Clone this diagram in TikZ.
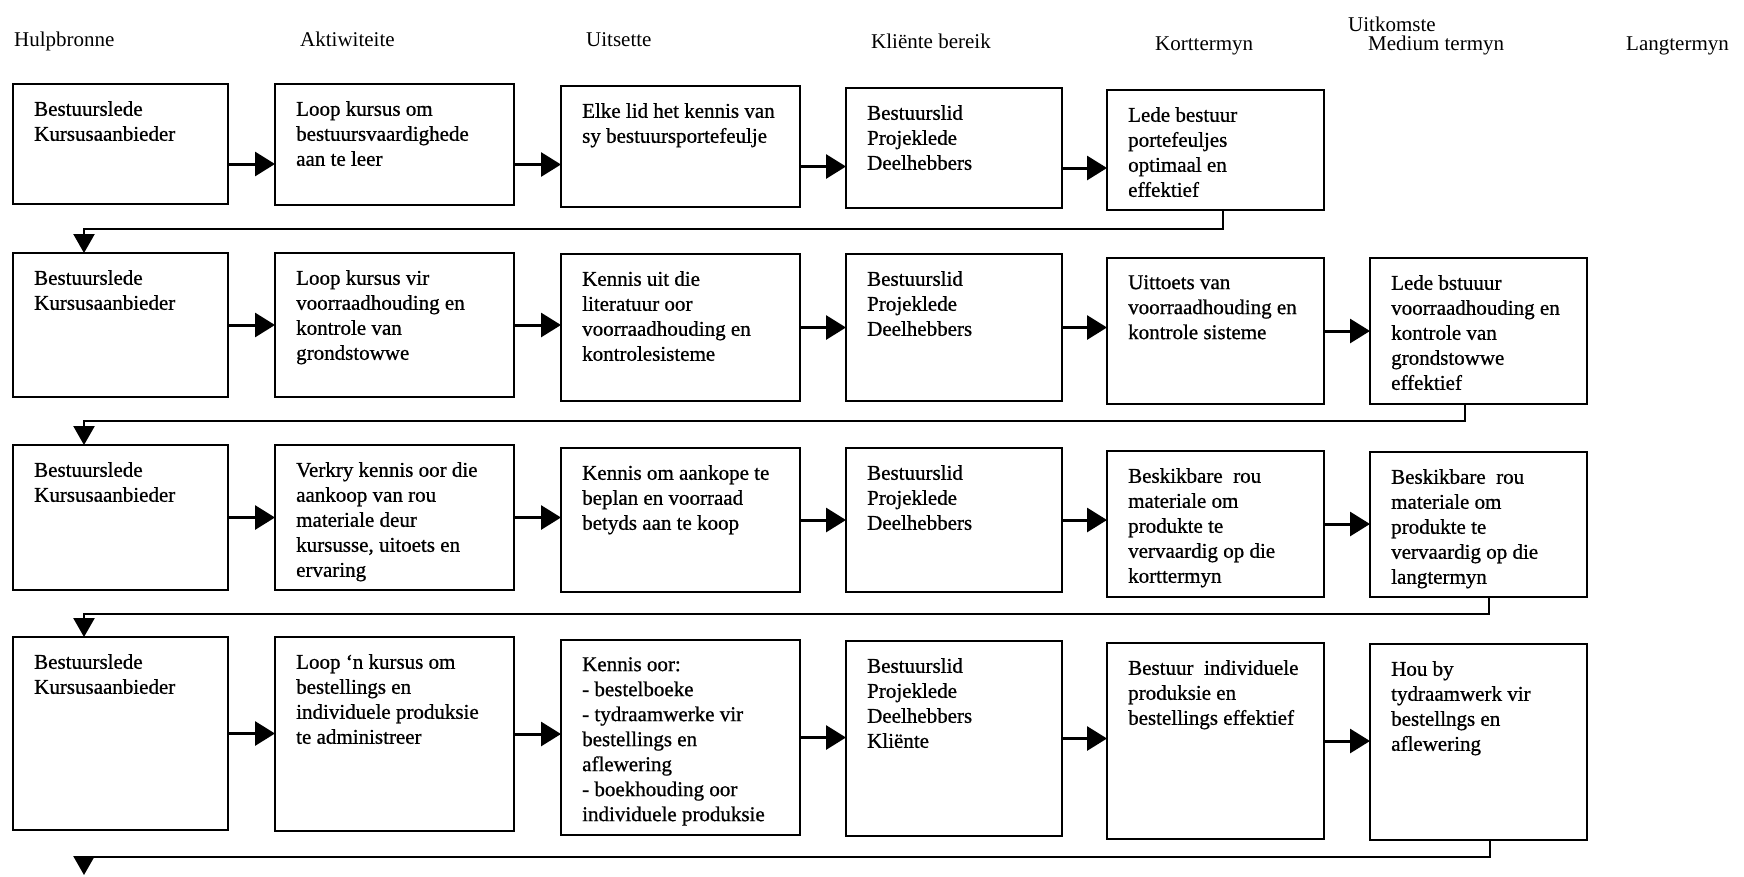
\documentclass[tikz,border=0pt]{standalone}
\usepackage{fontspec}
\setmainfont{Liberation Serif}
% slightly heavier serif for the text inside the boxes
\newfontfamily\boxserif{Liberation Serif}[BoldFont={Liberation Serif}, BoldFeatures={FakeBold=0.8}]
\usetikzlibrary{arrows.meta}

% one framed box of the logic model plus its top-left text
\newcommand\flowbox[6]{%
  \node[box, minimum width=#4pt, minimum height=#5pt] (#1) at (#2,#3) {};
  \node[txt] (#1t) at ([shift={(21pt,-17pt)}]#1.north west) {#6};}

\begin{document}
\begin{tikzpicture}[x=1pt,y=-1pt,
  box/.style={draw=black, line width=2.6pt, inner sep=0pt, outer sep=0pt, anchor=north west},
  txt/.style={inner sep=0pt, anchor=north west, align=left, font=\boxserif\bfseries\fontsize{21pt}{25pt}\selectfont},
  head/.style={inner sep=0pt, anchor=base west, font=\fontsize{21pt}{25pt}\selectfont},
  flow/.style={line width=3pt, -{Triangle[length=20pt,width=24pt]}},
  back/.style={line width=2.4pt, -{Triangle[length=19pt,width=21pt]}}
]
\useasboundingbox (0,0) rectangle (1744,876);

% column headings
\node[head] (h1) at (14,46) {Hulpbronne};
\node[head] (h2) at (300,46) {Aktiwiteite};
\node[head] (h3) at (586,46) {Uitsette};
\node[head] (h4) at (871,48) {Kli\"ente bereik};
\node[head] (h5) at (1155,50) {Korttermyn};
\node[head] (h6) at (1348,31) {Uitkomste};
\node[head] (h7) at (1368,50) {Medium termyn};
\node[head] (h8) at (1626,50) {Langtermyn};

% row 1
\flowbox{r1c1}{13}{84}{215}{120}{Bestuurslede\\Kursusaanbieder}
\flowbox{r1c2}{275}{84}{239}{121}{Loop kursus om\\bestuursvaardighede\\aan te leer}
\flowbox{r1c3}{561}{86}{239}{121}{Elke lid het kennis van\\sy bestuursportefeulje}
\flowbox{r1c4}{846}{88}{216}{120}{Bestuurslid\\Projeklede\\Deelhebbers}
\flowbox{r1c5}{1107}{90}{217}{120}{Lede bestuur\\portefeuljes\\optimaal en\\effektief}

% row 2
\flowbox{r2c1}{13}{253}{215}{144}{Bestuurslede\\Kursusaanbieder}
\flowbox{r2c2}{275}{253}{239}{144}{Loop kursus vir\\voorraadhouding en\\kontrole van\\grondstowwe}
\flowbox{r2c3}{561}{254}{239}{147}{Kennis uit die\\literatuur oor\\voorraadhouding en\\kontrolesisteme}
\flowbox{r2c4}{846}{254}{216}{147}{Bestuurslid\\Projeklede\\Deelhebbers}
\flowbox{r2c5}{1107}{258}{217}{146}{Uittoets van\\voorraadhouding en\\kontrole sisteme}
\flowbox{r2c6}{1370}{258}{217}{146}{Lede bstuuur\\voorraadhouding en\\kontrole van\\grondstowwe\\effektief}

% row 3
\flowbox{r3c1}{13}{445}{215}{145}{Bestuurslede\\Kursusaanbieder}
\flowbox{r3c2}{275}{445}{239}{145}{Verkry kennis oor die\\aankoop van rou\\materiale deur\\kursusse, uitoets en\\ervaring}
\flowbox{r3c3}{561}{448}{239}{144}{Kennis om aankope te\\beplan en voorraad\\betyds aan te koop}
\flowbox{r3c4}{846}{448}{216}{144}{Bestuurslid\\Projeklede\\Deelhebbers}
\flowbox{r3c5}{1107}{451}{217}{146}{Beskikbare\ \ rou\\materiale om\\produkte te\\vervaardig op die\\korttermyn}
\flowbox{r3c6}{1370}{452}{217}{145}{Beskikbare\ \ rou\\materiale om\\produkte te\\vervaardig op die\\langtermyn}

% row 4
\flowbox{r4c1}{13}{637}{215}{193}{Bestuurslede\\Kursusaanbieder}
\flowbox{r4c2}{275}{637}{239}{194}{Loop ‘n kursus om\\bestellings en\\individuele produksie\\te administreer}
\flowbox{r4c3}{561}{640}{239}{195}{Kennis oor:\\- bestelboeke\\- tydraamwerke vir\\bestellings en\\aflewering\\- boekhouding oor\\individuele produksie}
\flowbox{r4c4}{846}{641}{216}{195}{Bestuurslid\\Projeklede\\Deelhebbers\\Kli\"ente}
\flowbox{r4c5}{1107}{643}{217}{196}{Bestuur\ \ individuele\\produksie en\\bestellings effektief}
\flowbox{r4c6}{1370}{644}{217}{196}{Hou by\\tydraamwerk vir\\bestellngs en\\aflewering}

% arrows along row 1 (set below the box middles)
\foreach \a/\b in {r1c1/r1c2, r1c2/r1c3, r1c3/r1c4, r1c4/r1c5}
  \draw[flow] ([yshift=-20pt]\a.east) -- ([yshift=-20pt]\a.east -| \b.west);

% arrows along rows 2 to 4
\foreach \a/\b in {r2c1/r2c2, r2c2/r2c3, r2c3/r2c4, r2c4/r2c5, r2c5/r2c6,
                   r3c1/r3c2, r3c2/r3c3, r3c3/r3c4, r3c4/r3c5, r3c5/r3c6,
                   r4c1/r4c2, r4c2/r4c3, r4c3/r4c4, r4c4/r4c5, r4c5/r4c6}
  \draw[flow] (\a.east) -- (\a.east -| \b.west);

% return connectors from the end of each row to the start of the next
\draw[back] ([xshift=116pt]r1c5.south west) -- ++(0,19) -| ([xshift=71pt]r2c1.north west);
\draw[back] ([xshift=95pt]r2c6.south west) -- ++(0,17) -| ([xshift=71pt]r3c1.north west);
\draw[back] ([xshift=119pt]r3c6.south west) -- ++(0,17) -| ([xshift=71pt]r4c1.north west);
\coordinate (endpt) at (84,875);
\draw[back] ([xshift=120pt]r4c6.south west) -- ++(0,17) -| (endpt);

\end{tikzpicture}
\end{document}
